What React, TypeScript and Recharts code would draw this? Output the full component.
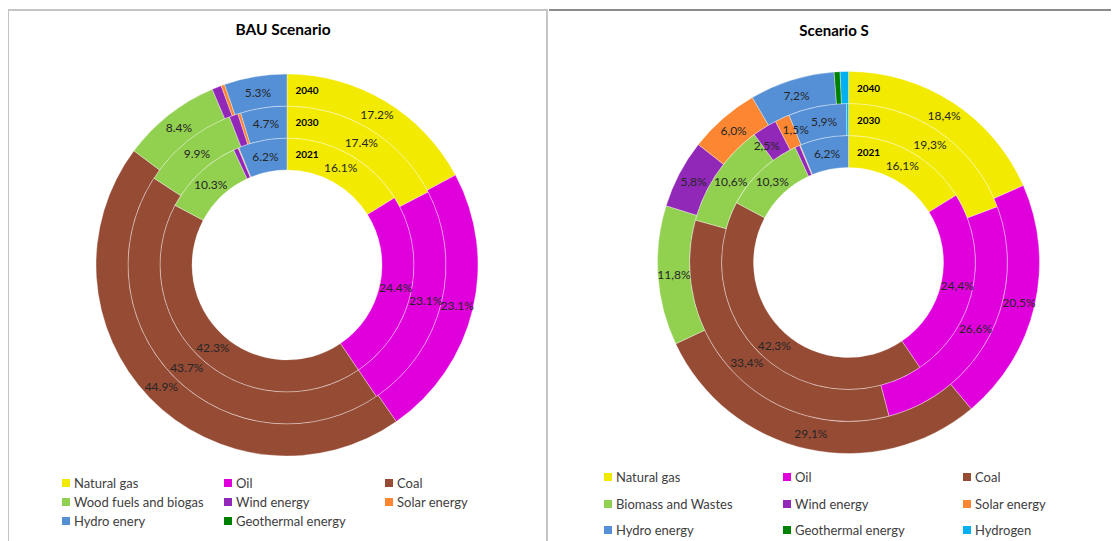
import React from "react";
import { Cell, Pie, PieChart } from "recharts";

// category order follows the clockwise order from 12 o'clock
const bauCategories = [
  "Natural gas",
  "Oil",
  "Coal",
  "Wood fuels and biogas",
  "Wind energy",
  "Solar energy",
  "Hydro enery",
  "Geothermal energy",
];
const bau2021 = [16.1, 24.4, 42.3, 10.3, 0.6, 0.1, 6.2, 0];
const bau2030 = [17.4, 23.1, 43.7, 9.9, 0.9, 0.3, 4.7, 0];
const bau2040 = [17.2, 23.1, 44.9, 8.4, 0.8, 0.3, 5.3, 0];

const sCategories = [
  "Natural gas",
  "Oil",
  "Coal",
  "Biomass and Wastes",
  "Wind energy",
  "Solar energy",
  "Hydro energy",
  "Geothermal energy",
  "Hydrogen",
];
const s2021 = [16.1, 24.4, 42.3, 10.3, 0.6, 0.1, 6.2, 0, 0];
const s2030 = [19.3, 26.6, 33.4, 10.6, 2.5, 1.5, 5.9, 0, 0.2];
const s2040 = [18.4, 20.5, 29.1, 11.8, 5.8, 6.0, 7.2, 0.5, 0.7];

const years = ["2021", "2030", "2040"];

const COLORS = [
  "#f2ea00",
  "#e000dc",
  "#964b35",
  "#92d050",
  "#9128b8",
  "#fd8632",
  "#5590d6",
  "#008000",
  "#00b0f0",
];

const FONT = "Lato, 'Open Sans', sans-serif";
const RAD = Math.PI / 180;
const RINGS = [
  [95, 127],
  [127, 159],
  [159, 191],
];

const isSmall = (v: number | undefined) => v !== undefined && v >= 1 && v < 3;

function makeLabel(year: string, vals: number[], comma: boolean) {
  return (props: any) => {
    const { cx, cy, midAngle, innerRadius, outerRadius, value, index } = props;
    const r = (innerRadius + outerRadius) / 2;
    const parts: React.ReactNode[] = [];
    if (value >= 1) {
      // spread labels of neighbouring thin slices apart a little
      let a = midAngle;
      const prevSmall = isSmall(vals[index - 1]);
      const nextSmall = isSmall(vals[index + 1]);
      if (isSmall(value) && nextSmall) a += 3;
      else if (isSmall(value) && prevSmall) a -= 3;
      else if (prevSmall) a -= 1.5;
      const x = cx + r * Math.cos(-a * RAD);
      const y = cy + r * Math.sin(-a * RAD);
      let txt = value.toFixed(1) + "%";
      if (comma) txt = txt.replace(".", ",");
      parts.push(
        <text
          key="v"
          x={x}
          y={y}
          textAnchor="middle"
          dominantBaseline="central"
          fontSize={12}
          fill="#262626"
          fontFamily={FONT}
        >
          {txt}
        </text>
      );
    }
    if (index === 0) {
      parts.push(
        <text
          key="y"
          x={cx + 20}
          y={cy - r}
          textAnchor="middle"
          dominantBaseline="central"
          fontSize={10}
          fontWeight="bold"
          fill="#000"
          fontFamily={FONT}
        >
          {year}
        </text>
      );
    }
    return <g>{parts}</g>;
  };
}

function Donut({
  categories,
  series,
  cx,
  cy,
  width,
  comma,
}: {
  categories: string[];
  series: number[][];
  cx: number;
  cy: number;
  width: number;
  comma: boolean;
}) {
  return (
    <PieChart width={width} height={470} margin={{ top: 0, right: 0, bottom: 0, left: 0 }}>
      {series.map((vals, i) => {
        const data = categories.map((name, j) => ({ name, value: vals[j] }));
        return (
          <Pie
            key={years[i]}
            data={data}
            dataKey="value"
            nameKey="name"
            cx={cx}
            cy={cy}
            innerRadius={RINGS[i][0]}
            outerRadius={RINGS[i][1]}
            startAngle={90}
            endAngle={-270}
            stroke="#ffffff"
            strokeWidth={0.35}
            label={makeLabel(years[i], vals, comma)}
            labelLine={false}
            isAnimationActive={false}
          >
            {data.map((d, j) => (
              <Cell key={d.name} fill={COLORS[j]} />
            ))}
          </Pie>
        );
      })}
    </PieChart>
  );
}

function LegendGrid({
  categories,
  left,
  top,
  colX,
  rowH,
}: {
  categories: string[];
  left: number;
  top: number;
  colX: number[];
  rowH: number;
}) {
  return (
    <>
      {categories.map((name, i) => (
        <div
          key={name}
          style={{
            position: "absolute",
            left: left + colX[i % 3],
            top: top + Math.floor(i / 3) * rowH - 9,
            height: 18,
            display: "flex",
            alignItems: "center",
            fontFamily: FONT,
            fontSize: 13,
            color: "#404040",
            whiteSpace: "nowrap",
          }}
        >
          <span
            style={{
              display: "inline-block",
              width: 8,
              height: 8,
              background: COLORS[i],
              marginRight: 4,
            }}
          />
          {name}
        </div>
      ))}
    </>
  );
}

export default function App() {
  return (
    <div style={{ position: "relative", width: 1111, height: 533, overflow: "hidden" }}>
      <div
        style={{
          position: "absolute",
          left: -1,
          top: 1,
          width: 537,
          height: 560,
          borderTop: "2px solid #c4c4c4",
          borderLeft: "2px solid #c4c4c4",
          borderRight: "2px solid #c4c4c4",
        }}
      />
      <div
        style={{
          position: "absolute",
          left: 541,
          top: 1,
          width: 580,
          height: 0,
          borderTop: "2px solid #8c8c8c",
        }}
      />
      <div
        style={{
          position: "absolute",
          left: 0,
          width: 550,
          top: 12,
          textAlign: "center",
          fontFamily: FONT,
          fontWeight: "bold",
          fontSize: 15.5,
          color: "#000",
        }}
      >
        BAU Scenario
      </div>
      <div
        style={{
          position: "absolute",
          left: 541,
          width: 570,
          top: 13,
          textAlign: "center",
          fontFamily: FONT,
          fontWeight: "bold",
          fontSize: 15,
          color: "#000",
        }}
      >
        Scenario S
      </div>
      <div style={{ position: "absolute", left: 0, top: 0 }}>
        <Donut
          categories={bauCategories}
          series={[bau2021, bau2030, bau2040]}
          cx={279}
          cy={257}
          width={540}
          comma={false}
        />
      </div>
      <div style={{ position: "absolute", left: 541, top: 0 }}>
        <Donut
          categories={sCategories}
          series={[s2021, s2030, s2040]}
          cx={299.5}
          cy={254.5}
          width={570}
          comma={true}
        />
      </div>
      <LegendGrid categories={bauCategories} left={54} top={475} colX={[0, 162, 323]} rowH={19} />
      <LegendGrid categories={sCategories} left={596} top={469} colX={[0, 179, 359]} rowH={26.5} />
    </div>
  );
}
